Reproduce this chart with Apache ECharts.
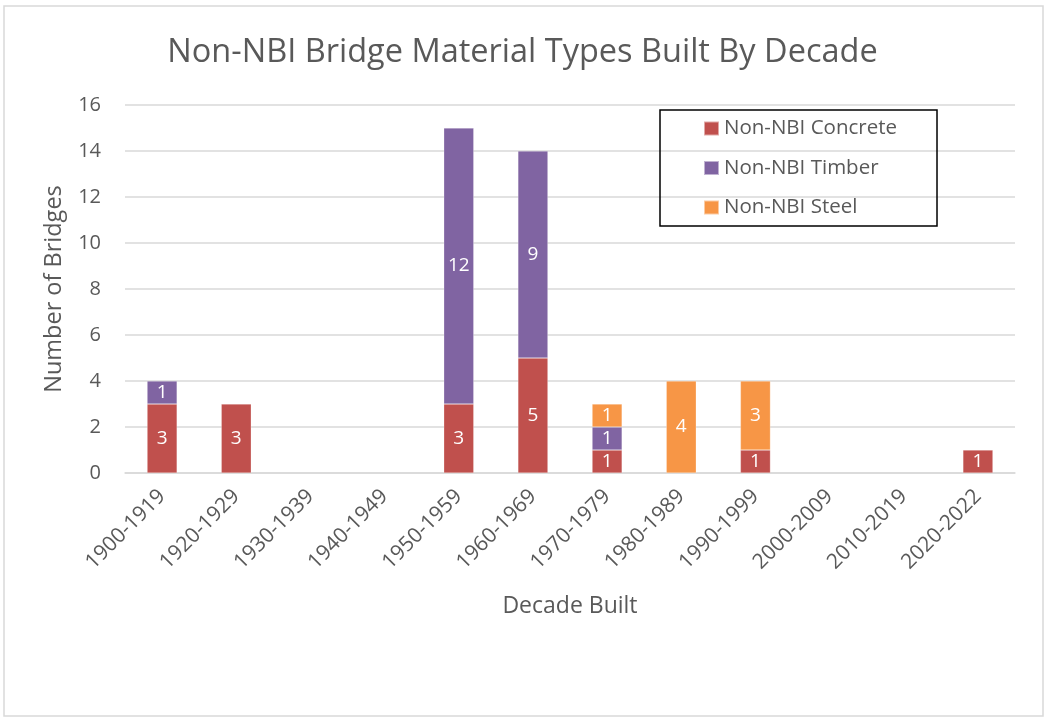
<!DOCTYPE html>
<html lang="en">
<head>
    <meta charset="UTF-8">
    <title>Non-NBI Bridges</title>
    <script src="https://cdn.jsdelivr.net/npm/echarts@6/dist/echarts.min.js"></script>
    <style>
        body { margin: 0; padding: 0; background: #fff; }
        #chart { width: 1045px; height: 717px; }
    </style>
</head>
<body>
    <div id="chart"></div>
    <script>
        const decades = ['1900-1919', '1920-1929', '1930-1939', '1940-1949', '1950-1959', '1960-1969',
                         '1970-1979', '1980-1989', '1990-1999', '2000-2009', '2010-2019', '2020-2022'];
        const concrete = [3, 3, null, null, 3, 5, 1, null, 1, null, null, 1];
        const timber = [1, null, null, null, 12, 9, 1, null, null, null, null, null];
        const steel = [null, null, null, null, null, null, 1, 4, 3, null, null, null];

        const font = 'Open Sans';
        const labelStyle = { show: true, color: '#fff', fontSize: 19, fontFamily: font };

        function barSeries(name, data, color) {
            return {
                name: name,
                type: 'bar',
                stack: 'all',
                barWidth: 30,
                data: data,
                label: labelStyle,
                itemStyle: { color: color, borderColor: 'rgba(255,255,255,0.5)', borderWidth: 0.5 }
            };
        }

        const chart = echarts.init(document.getElementById('chart'));
        chart.setOption({
            animation: false,
            title: {
                text: 'Non-NBI Bridge Material Types Built By Decade',
                left: 'center',
                top: 31,
                textStyle: { color: '#595959', fontSize: 32.5, fontWeight: 'normal', fontFamily: font }
            },
            graphic: [{
                type: 'rect',
                shape: { x: 4, y: 6, width: 1039, height: 710 },
                style: { fill: 'none', stroke: '#d9d9d9', lineWidth: 1.5 },
                silent: true
            }],
            legend: {
                orient: 'vertical',
                left: 660,
                top: 110,
                itemWidth: 15,
                itemHeight: 14,
                itemGap: 18.5,
                icon: 'rect',
                padding: [8, 40, 8, 43],
                borderColor: '#000',
                borderWidth: 1.5,
                textStyle: { color: '#595959', fontSize: 20.5, fontFamily: font }
            },
            grid: { left: 125, right: 30, top: 105, bottom: 244, containLabel: false },
            xAxis: {
                type: 'category',
                data: decades,
                name: 'Decade Built',
                nameLocation: 'middle',
                nameGap: 122,
                nameTextStyle: { color: '#595959', fontSize: 23, fontFamily: font },
                axisLine: { lineStyle: { color: '#d9d9d9', width: 1.5 } },
                axisTick: { show: false },
                axisLabel: { rotate: 45, color: '#595959', fontSize: 21, fontFamily: font, margin: 20, interval: 0 }
            },
            yAxis: {
                type: 'value',
                min: 0,
                max: 16,
                interval: 2,
                name: 'Number of Bridges',
                nameLocation: 'middle',
                nameGap: 59,
                nameTextStyle: { color: '#595959', fontSize: 23.5, fontFamily: font },
                axisLabel: { color: '#595959', fontSize: 20, fontFamily: font, margin: 24 },
                splitLine: { lineStyle: { color: '#d9d9d9', width: 1.5 } }
            },
            series: [
                barSeries('Non-NBI Concrete', concrete, '#C0504D'),
                barSeries('Non-NBI Timber', timber, '#8064A2'),
                barSeries('Non-NBI Steel', steel, '#F79646')
            ]
        });
    </script>
</body>
</html>
